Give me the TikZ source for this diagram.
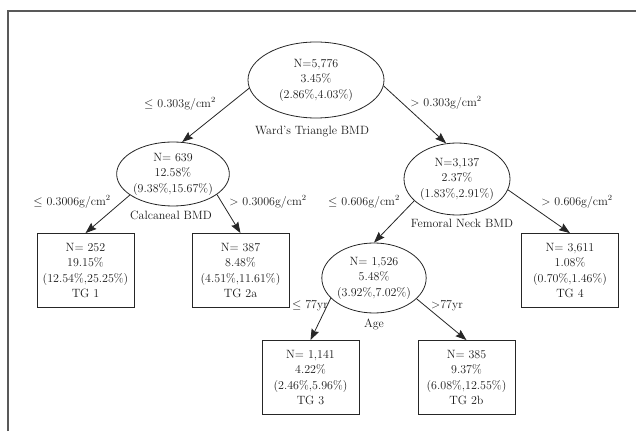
\documentclass[tikz,border=0pt]{standalone}
\usepackage{fontspec}
\usetikzlibrary{arrows.meta,shapes.geometric}
\begin{document}
\begin{tikzpicture}[x=1pt,y=1pt,
    arrow/.style = {thick,black!85,-{Stealth[length=11pt,width=8pt,inset=1.5pt]}},
    every node/.style = {text=black!90,font=\fontsize{12}{15.5}\selectfont,align=center},
    split/.style = {draw=black!85,thick,ellipse,inner sep=0pt},
    leaf/.style = {draw=black!85,thick,rectangle,inner sep=0pt,minimum width=97pt,minimum height=74pt}]
                \useasboundingbox (0,0) rectangle (636,431);
                \draw[black!65,line width=1.3pt] (8,0) -- (8,420) -- (636,420);

                \node[split,minimum width=136pt,minimum height=76pt] (root)
                    at (316,351) {N=5,776\\3.45\%\\(2.86\%,4.03\%)};
                \node[split,minimum width=96pt,minimum height=64pt] (calc)
                    at (173,257) {N= 639\\12.58\%\\(9.38\%,15.67\%)};
                \node[split,minimum width=106pt,minimum height=72pt] (femneck)
                    at (457,252) {N=3,137\\2.37\%\\(1.83\%,2.91\%)};
                \node[split,minimum width=104pt,minimum height=70pt] (age)
                    at (374,153) {N= 1,526\\5.48\%\\(3.92\%,7.02\%)};
                \node[leaf] (tgone)
                    at (85.5,160.5) {N= 252\\19.15\%\\(12.54\%,25.25\%)\\TG 1};
                \node[leaf] (tgtwoa)
                    at (240.5,160.5) {N= 387\\8.48\%\\(4.51\%,11.61\%)\\TG 2a};
                \node[leaf] (tgfour)
                    at (570,160.5) {N= 3,611\\1.08\%\\(0.70\%,1.46\%)\\TG 4};
                \node[leaf] (tgthree)
                    at (310.5,53.5) {N= 1,141\\4.22\%\\(2.46\%,5.96\%)\\TG 3};
                \node[leaf] (tgtwob)
                    at (466.5,53.5) {N= 385\\9.37\%\\(6.08\%,12.55\%)\\TG 2b};

                \draw[arrow] (root.187) -- (calc.74);
                \draw[arrow] (root.355) -- (femneck.107);
                \draw[arrow] (calc.206) -- (tgone.north);
                \draw[arrow] (calc.335) -- (tgtwoa.north);
                \draw[arrow] (femneck.207) -- (age.north);
                \draw[arrow] (femneck.348) -- (tgfour.north);
                \draw[arrow] (age.205) -- (tgthree.north);
                \draw[arrow] (age.334) -- (tgtwob.north);

                \node (lewards) at (180,327) {$\le$ 0.303g/cm$^2$};
                \node (gtwards) at (446,328) {$>$ 0.303g/cm$^2$};
                \node (wards) at (312,299) {Ward's Triangle BMD};
                \node (lecalc) at (72,229) {$\le$ 0.3006g/cm$^2$};
                \node (gtcalc) at (268,229) {$>$ 0.3006g/cm$^2$};
                \node (calcbmd) at (171,216) {Calcaneal BMD};
                \node (lefem) at (364,229) {$\le$ 0.606g/cm$^2$};
                \node (gtfem) at (577,229) {$>$ 0.606g/cm$^2$};
                \node (fembmd) at (462,208) {Femoral Neck BMD};
                \node (leage) at (310,125) {$\le$ 77yr};
                \node (gtage) at (447,125) {$>$77yr};
                \node (agelabel) at (374,107) {Age};
            \end{tikzpicture}
\end{document}
